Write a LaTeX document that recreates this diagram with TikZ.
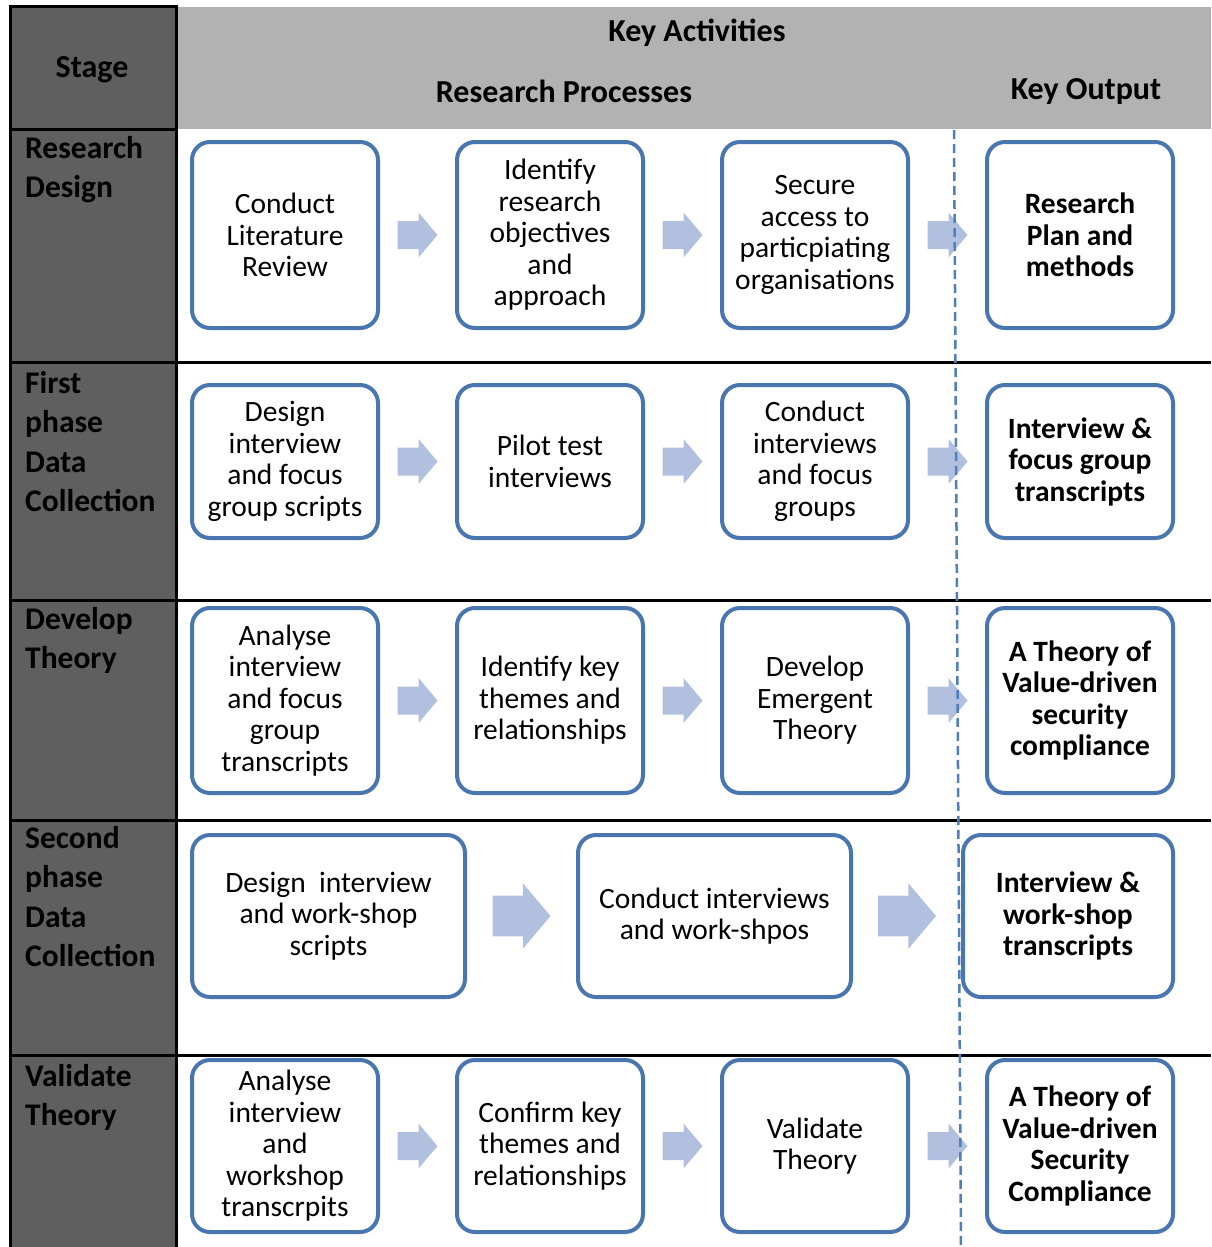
\documentclass[tikz,border=0pt]{standalone}
\usepackage{fontspec}
\setmainfont{Carlito}
\usetikzlibrary{calc}

\definecolor{boxblue}{HTML}{4A76B0}
\definecolor{arrowfill}{HTML}{B0C0DE}
\definecolor{headgray}{HTML}{B2B2B2}
\definecolor{stagegray}{HTML}{5F5F5F}
\definecolor{dashblue}{HTML}{4F7FBF}

\tikzset{
  stepbox/.style={draw=boxblue, line width=4pt, rounded corners=18pt, fill=white,
    align=center, inner sep=4pt, font=\fontsize{29.5}{31.5}\selectfont},
  outbox/.style={stepbox, font=\fontsize{29.5}{31.5}\selectfont\bfseries},
  stagelabel/.style={anchor=north west, align=left, inner sep=0pt,
    font=\fontsize{31.5}{39.5}\selectfont\bfseries},
  headlabel/.style={inner sep=0pt, font=\fontsize{32}{36}\selectfont\bfseries},
  gridline/.style={line width=3pt, black},
  divider/.style={dashblue, line width=2.5pt, dash pattern=on 9pt off 5pt},
}

% block arrow halfway between two boxes; #3 scales the arrow
\newcommand\blockarrow[3]{%
  \path ($(#1.east)!0.5!(#2.west)$) coordinate (#1-#2-mid);
  \fill[arrowfill] (#1-#2-mid) ++(-20*#3,-14*#3) -- ++(21*#3,0) -- ++(0,-8.5*#3)
    -- ++(19*#3,22.5*#3) -- ++(-19*#3,22.5*#3) -- ++(0,-8.5*#3) -- ++(-21*#3,0) -- cycle;
}

\begin{document}
\begin{tikzpicture}[x=1pt,y=-1pt]
\useasboundingbox (0,0) rectangle (1211,1247);
\fill[white] (0,0) rectangle (1211,1247);

% stage column and header band
\fill[stagegray] (10,7) rectangle (176,1247);
\fill[headgray] (176,7) rectangle (1211,129);

% table rules
\draw[gridline] (10,1247) -- (10,7) -- (176,7) -- (176,1247);
\draw[gridline] (10,129) -- (176,129);
\foreach \yy in {362,600,820,1055} \draw[gridline] (10,\yy) -- (1211,\yy);

% header texts
\node[headlabel] (hstage) at (92,70) {Stage};
\node[headlabel] (hkey) at (697,33) {Key Activities};
\node[headlabel] (hproc) at (564,91) {Research Processes};
\node[headlabel] (hout) at (1086,92) {Key Output};

% stage labels
\node[stagelabel] (s1) at (25,134) {\rule{0pt}{24pt}Research\\Design};
\node[stagelabel] (s2) at (25,369) {\rule{0pt}{24pt}First\\phase\\Data\\Collection};
\node[stagelabel] (s3) at (25,605) {\rule{0pt}{24pt}Develop\\Theory};
\node[stagelabel] (s4) at (25,824) {\rule{0pt}{24pt}Second\\phase\\Data\\Collection};
\node[stagelabel] (s5) at (25,1062) {\rule{0pt}{24pt}Validate\\Theory};

% row 1: research design
\begin{scope}[every node/.append style={minimum width=186pt, minimum height=186pt}]
\node[stepbox] (a1) at (285,235) {Conduct\\Literature\\Review};
\node[stepbox] (a2) at (550,235) {Identify\\research\\objectives\\and\\approach};
\node[stepbox] (a3) at (815,235) {Secure\\access to\\particpiating\\organisations};
\node[outbox]  (a4) at (1080,235) {Research\\Plan and\\methods};
\end{scope}

% row 2: first phase data collection
\begin{scope}[every node/.append style={minimum width=186pt, minimum height=153pt}]
\node[stepbox] (b1) at (285,461.5) {Design\\interview\\and focus\\group scripts};
\node[stepbox] (b2) at (550,461.5) {Pilot test\\interviews};
\node[stepbox] (b3) at (815,461.5) {Conduct\\interviews\\and focus\\groups};
\node[outbox]  (b4) at (1080,461.5) {Interview \&\\focus group\\transcripts};
\end{scope}

% row 3: develop theory
\begin{scope}[every node/.append style={minimum width=186pt, minimum height=185pt}]
\node[stepbox] (c1) at (285,700.5) {Analyse\\interview\\and focus\\group\\transcripts};
\node[stepbox] (c2) at (550,700.5) {Identify key\\themes and\\relationships};
\node[stepbox] (c3) at (815,700.5) {Develop\\Emergent\\Theory};
\node[outbox]  (c4) at (1080,700.5) {A Theory of\\Value-driven\\security\\compliance};
\end{scope}

% row 4: second phase data collection
\begin{scope}[every node/.append style={minimum height=162pt}]
\node[stepbox, minimum width=273pt] (d1) at (328.5,916) {Design\ \ interview\\and work-shop\\scripts};
\node[stepbox, minimum width=273pt] (d2) at (714.5,916) {Conduct interviews\\and work-shpos};
\node[outbox, minimum width=210pt]  (d3) at (1068,916) {Interview \&\\work-shop\\transcripts};
\end{scope}

% row 5: validate theory
\begin{scope}[every node/.append style={minimum width=186pt, minimum height=172pt}]
\node[stepbox] (e1) at (285,1146) {Analyse\\interview\\and\\workshop\\transcrpits};
\node[stepbox] (e2) at (550,1146) {Confirm key\\themes and\\relationships};
\node[stepbox] (e3) at (815,1146) {Validate\\Theory};
\node[outbox]  (e4) at (1080,1146) {A Theory of\\Value-driven\\Security\\Compliance};
\end{scope}

% flow arrows
\blockarrow{a1}{a2}{1}\blockarrow{a2}{a3}{1}\blockarrow{a3}{a4}{1}
\blockarrow{b1}{b2}{1}\blockarrow{b2}{b3}{1}\blockarrow{b3}{b4}{1}
\blockarrow{c1}{c2}{1}\blockarrow{c2}{c3}{1}\blockarrow{c3}{c4}{1}
\blockarrow{d1}{d2}{1.45}\blockarrow{d2}{d3}{1.45}
\blockarrow{e1}{e2}{1}\blockarrow{e2}{e3}{1}\blockarrow{e3}{e4}{1}

% divider between processes and outputs
\coordinate (divtop) at (954,130);
\coordinate (divbot) at (961,1247);
\draw[divider] (divtop) -- (divbot);
\end{tikzpicture}
\end{document}
